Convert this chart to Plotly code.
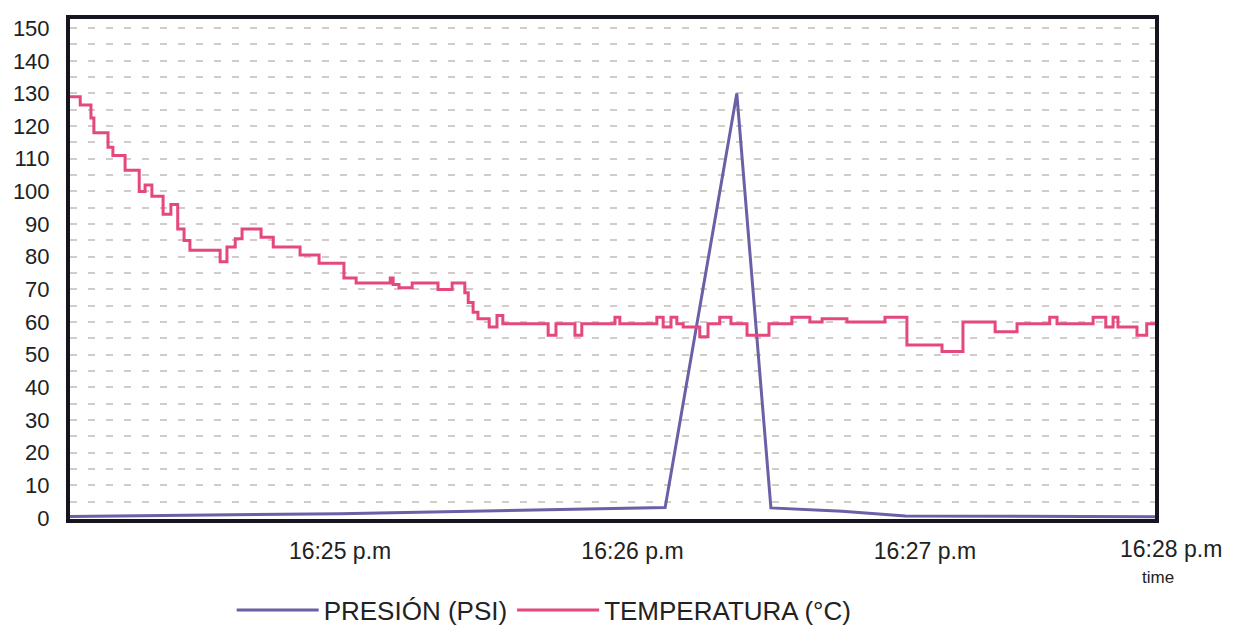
import plotly.graph_objects as go

# ---- data (time in seconds after 16:24:00) ----
temp_t_s = [4.6, 6.7, 8.9, 9.5, 12.4, 13.4, 15.9, 18.8, 20.0, 21.4, 23.7, 25.3, 26.7, 28.0,
            29.2, 35.4, 36.8, 38.5, 39.9, 43.8, 46.3, 51.8, 55.7, 60.8, 63.3, 70.3, 70.9,
            72.1, 74.8, 80.1, 83.0, 85.6, 86.3, 87.3, 88.3, 90.6, 92.2, 93.4, 102.7, 104.3,
            108.2, 109.6, 116.4, 117.4, 125.0, 126.3, 127.9, 129.1, 130.4, 133.8, 135.5,
            137.9, 140.2, 143.5, 148.0, 152.7, 156.4, 158.9, 164.0, 171.8, 176.3, 183.5,
            187.8, 194.4, 198.9, 205.6, 207.1, 214.5, 217.1, 218.6, 219.6, 223.5, 225.5, 227.2]
temp_c = [129, 126.5, 122.5, 118, 113.5, 111, 106.5, 100, 102, 98.5, 93, 96, 88.5, 85,
          82, 78.5, 83, 85.5, 88.5, 86, 83, 80.5, 78, 73.5, 72, 73.5, 71.5,
          70.5, 72, 70, 72, 69, 66, 63, 61, 58.5, 62, 59.5, 56, 59.5,
          56, 59.5, 61.5, 59.5, 61.5, 58.5, 61.5, 59.5, 58.5, 55.5, 59.5,
          61.5, 59.5, 56, 59.5, 61.5, 60, 61, 60, 61.5, 53, 51,
          60, 57, 59.5, 61.5, 59.5, 61.5, 58.5, 61.5, 58.5, 56, 59.5, 59.5]

pres_t_s = [4.6, 60.0, 126.7, 141.4, 148.4, 163.0, 176.0, 227.2]
pres_psi = [0.5, 1.3, 3.2, 130.0, 3.1, 2.1, 0.6, 0.4]

x_tick_vals = [60, 120, 180]
x_tick_text = ["16:25 p.m", "16:26 p.m", "16:27 p.m"]
x_last_label = "16:28 p.m"
y_tick_vals = list(range(0, 151, 10))

PURPLE = "#6b5fa6"
PINK = "#e4487f"
GRID = "#d2ccc5"
FRAME = "#15151f"
FONT = "Liberation Sans, Arial, sans-serif"

fig = go.Figure()
fig.add_trace(go.Scatter(x=pres_t_s, y=pres_psi, mode="lines", name="PRESIÓN (PSI)",
                         line=dict(color=PURPLE, width=3)))
fig.add_trace(go.Scatter(x=temp_t_s, y=temp_c, mode="lines", name="TEMPERATURA (°C)",
                         line=dict(color=PINK, width=3, shape="hv")))

# the page body adds an 8px offset, so the figure is 8px smaller and margins compensate
fig.update_layout(
    width=1225, height=623,
    margin=dict(l=62, r=78, t=11, b=112, autoexpand=False),
    paper_bgcolor="white", plot_bgcolor="white",
    font=dict(family=FONT, color="#222222", size=22),
    showlegend=True,
    legend=dict(orientation="h", x=0.437, xanchor="center", y=-0.182, yanchor="middle",
                font=dict(size=26, color="#222222"), itemwidth=82, traceorder="normal"),
    xaxis=dict(range=[4.6, 227.2], tickvals=x_tick_vals, ticktext=x_tick_text,
               showgrid=False, zeroline=False, showline=True, linecolor=FRAME,
               linewidth=4, mirror=True, ticks="", ticklabelstandoff=8,
               tickfont=dict(size=23)),
    yaxis=dict(range=[-0.3, 152.8], tickvals=y_tick_vals, showgrid=True,
               gridcolor=GRID, gridwidth=2, griddash="7px,11px",
               minor=dict(dtick=5, tick0=5, showgrid=True, gridcolor=GRID, gridwidth=2,
                          griddash="7px,11px"),
               zeroline=False, showline=True, linecolor=FRAME, linewidth=4, mirror=True,
               ticks="", ticklabelstandoff=12, tickfont=dict(size=22)),
    annotations=[
        dict(text=x_last_label, xref="paper", yref="paper", x=1.064, y=-0.06,
             xanchor="right", yanchor="middle", showarrow=False,
             font=dict(size=23, color="#222222")),
        dict(text="time", xref="paper", yref="paper", x=1.003, y=-0.118,
             xanchor="center", yanchor="middle", showarrow=False,
             font=dict(size=17, color="#222222")),
    ],
)

fig.write_html("out.html")
